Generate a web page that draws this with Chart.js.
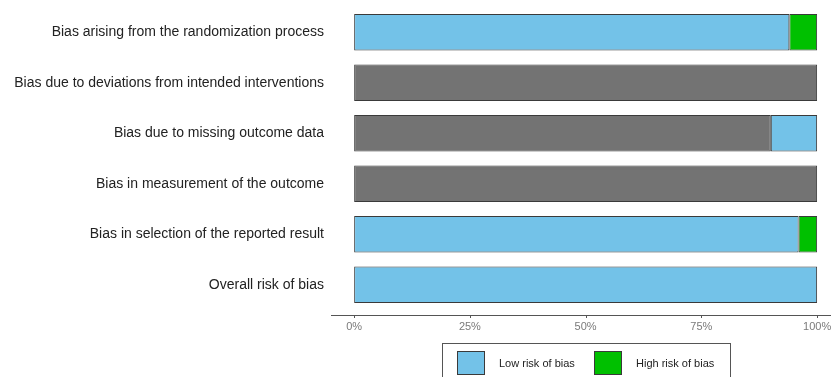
<!DOCTYPE html>
<html>
<head>
<meta charset="utf-8">
<script src="https://cdn.jsdelivr.net/npm/chart.js@4/dist/chart.umd.min.js"></script>
<style>
  html, body { margin: 0; padding: 0; background: #fff; overflow: hidden; }
  #wrap { position: relative; width: 831px; height: 377px; overflow: hidden; }
  #legend { position: absolute; left: 442px; top: 343px; width: 289px; height: 60px;
            border: 1.5px solid #555; box-sizing: border-box; font-family: "Liberation Sans", Arial, sans-serif; }
  .item { position: absolute; top: 7px; display: flex; align-items: center; }
  .sw { width: 26px; height: 22px; border: 1px solid #3a3a3a; }
  .lab { font-size: 11px; color: #222; margin-left: 14px; }
</style>
</head>
<body>
<div id="wrap">
  <canvas id="c" width="831" height="377"></canvas>
  <div id="legend"></div>
</div>
<script>
const categories = [
  "Bias arising from the randomization process",
  "Bias due to deviations from intended interventions",
  "Bias due to missing outcome data",
  "Bias in measurement of the outcome",
  "Bias in selection of the reported result",
  "Overall risk of bias"
];
const noInfo = [0, 100, 90, 100, 0, 0];
const lowRisk = [94, 0, 10, 0, 96, 100];
const highRisk = [6, 0, 0, 0, 4, 0];
const xTicks = [0, 25, 50, 75, 100];

const axisLine = {
  id: 'axisLine',
  afterDraw(chart) {
    const {ctx, chartArea} = chart;
    const xs = chart.scales.x;
    const y = chartArea.bottom + 5;
    ctx.save();
    ctx.strokeStyle = '#555';
    ctx.lineWidth = 1;
    ctx.beginPath();
    ctx.moveTo(chartArea.left, y + 0.5);
    ctx.lineTo(chartArea.right, y + 0.5);
    xTicks.forEach(v => {
      const px = Math.round(xs.getPixelForValue(v)) + 0.5;
      ctx.moveTo(px, y);
      ctx.lineTo(px, y + 3);
    });
    ctx.stroke();
    ctx.restore();
  }
};

const chart = new Chart(document.getElementById('c'), {
  type: 'bar',
  data: {
    labels: categories,
    datasets: [
      { label: 'No information', data: noInfo, backgroundColor: '#737373', showInLegend: false },
      { label: 'Low risk of bias', data: lowRisk, backgroundColor: '#73C2E8', showInLegend: true },
      { label: 'High risk of bias', data: highRisk, backgroundColor: '#00C000', showInLegend: true }
    ]
  },
  options: {
    indexAxis: 'y',
    responsive: false,
    animation: false,
    layout: { padding: { top: 7, right: 0, left: 0, bottom: 0 } },
    datasets: {
      bar: {
        borderColor: '#3a3a3a',
        borderWidth: 1,
        borderSkipped: false,
        barPercentage: 0.72,
        categoryPercentage: 1
      }
    },
    plugins: { legend: { display: false }, tooltip: { enabled: false } },
    scales: {
      x: {
        stacked: true,
        min: -5,
        max: 103,
        grid: { display: false, drawTicks: false },
        border: { display: false },
        afterBuildTicks(scale) { scale.ticks = xTicks.map(v => ({ value: v })); },
        afterFit(scale) {
          scale.height = 67;
          scale.paddingLeft = 0; scale.paddingRight = 0;
        },
        ticks: {
          padding: 10,
          color: '#7a7a7a',
          font: { family: '"Liberation Sans", Arial, sans-serif', size: 11 },
          callback: v => v + '%',
          maxRotation: 0
        }
      },
      y: {
        stacked: true,
        grid: { display: false, drawTicks: false },
        border: { display: false },
        afterFit(scale) {
          scale.width = 331;
          scale.paddingTop = 0; scale.paddingBottom = 0;
        },
        ticks: {
          padding: 7,
          color: '#222',
          font: { family: '"Liberation Sans", Arial, sans-serif', size: 14 }
        }
      }
    }
  },
  plugins: [axisLine]
});

const leg = document.getElementById('legend');
const positions = [14, 151];
chart.data.datasets.filter(d => d.showInLegend).forEach((d, i) => {
  const it = document.createElement('div');
  it.className = 'item';
  it.style.left = positions[i] + 'px';
  const sw = document.createElement('div');
  sw.className = 'sw';
  sw.style.background = d.backgroundColor;
  const lb = document.createElement('span');
  lb.className = 'lab';
  lb.textContent = d.label;
  it.appendChild(sw); it.appendChild(lb);
  leg.appendChild(it);
});
</script>
</body>
</html>
